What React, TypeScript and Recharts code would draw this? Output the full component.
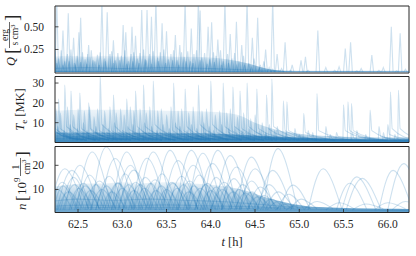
import React from 'react';
import { ComposedChart, Line, Area, XAxis, YAxis, ReferenceArea } from 'recharts';

const T_MIN = 62.24;
const T_MAX = 66.24;
const timeTicks = [62.5, 63.0, 63.5, 64.0, 64.5, 65.0, 65.5, 66.0];
const qTicks = [0.25, 0.5];
const tTicks = [10, 20, 30];
const nTicks = [10, 20];
const Q_DOMAIN = [-0.01, 0.73];
const T_DOMAIN = [0, 33.3];
const N_DOMAIN = [0.45, 27.8];

// Q panel: heating spikes [time h, peak erg/(s cm^3)]
const qTallSpikes = [
  [62.26, 0.8], [62.33, 0.46], [62.39, 0.65], [62.51, 0.44], [62.53, 0.6], [62.77, 0.8], [62.83, 0.66],
  [63.01, 0.52], [63.04, 0.44], [63.11, 0.5], [63.22, 0.685], [63.28, 0.685], [63.33, 0.61], [63.38, 0.8],
  [63.45, 0.54], [63.6, 0.41], [63.71, 0.8], [63.86, 0.8], [63.88, 0.68], [63.97, 0.5], [64.01, 0.55],
  [64.16, 0.8], [64.29, 0.555], [64.41, 0.8], [64.53, 0.6], [64.7, 0.8], [64.84, 0.33], [65.02, 0.13],
  [65.07, 0.168], [65.21, 0.46], [65.52, 0.26], [65.58, 0.33], [65.82, 0.187], [66.04, 0.5], [66.14, 0.43],
  [62.45, 0.38], [62.62, 0.3], [62.9, 0.35], [63.15, 0.4], [63.5, 0.45], [63.65, 0.3], [63.78, 0.48],
  [64.08, 0.36], [64.22, 0.42], [64.35, 0.3], [64.47, 0.38], [64.62, 0.25], [64.75, 0.2], [64.92, 0.08],
  [65.3, 0.05], [65.45, 0.06], [65.7, 0.04], [65.95, 0.05], [66.2, 0.03],
];
const qMidSpikes = [
  [62.24, 0.22], [62.28, 0.15], [62.31, 0.24], [62.35, 0.12], [62.38, 0.2], [62.42, 0.25], [62.46, 0.1],
  [62.49, 0.18], [62.55, 0.22], [62.58, 0.14], [62.61, 0.2], [62.65, 0.24], [62.69, 0.12], [62.72, 0.19],
  [62.75, 0.22], [62.8, 0.15], [62.86, 0.2], [62.88, 0.23], [62.92, 0.13], [62.95, 0.21], [62.99, 0.18],
  [63.03, 0.24], [63.07, 0.12], [63.1, 0.2], [63.13, 0.22], [63.17, 0.15], [63.2, 0.21], [63.24, 0.25],
  [63.27, 0.13], [63.31, 0.2], [63.35, 0.23], [63.4, 0.16], [63.43, 0.22], [63.47, 0.25], [63.52, 0.14],
  [63.55, 0.2], [63.58, 0.24], [63.62, 0.13], [63.67, 0.22], [63.7, 0.17], [63.74, 0.23], [63.77, 0.12],
  [63.81, 0.2], [63.84, 0.24], [63.9, 0.16], [63.93, 0.21], [63.99, 0.14], [64.03, 0.22], [64.06, 0.18],
  [64.11, 0.24], [64.14, 0.12], [64.19, 0.2], [64.24, 0.15], [64.27, 0.21], [64.32, 0.12], [64.37, 0.18],
  [64.43, 0.1], [64.49, 0.15], [64.56, 0.08], [64.6, 0.12], [64.66, 0.05], [64.8, 0.04],
];
const qLowSpikes = [
  [62.26, 0.1], [62.33, 0.08], [62.4, 0.12], [62.47, 0.07], [62.53, 0.11], [62.6, 0.09], [62.67, 0.13],
  [62.74, 0.08], [62.81, 0.12], [62.9, 0.1], [62.97, 0.13], [63.05, 0.09], [63.12, 0.12], [63.19, 0.1],
  [63.26, 0.14], [63.33, 0.09], [63.41, 0.12], [63.49, 0.1], [63.57, 0.13], [63.64, 0.08], [63.72, 0.12],
  [63.8, 0.1], [63.88, 0.13], [63.96, 0.09], [64.04, 0.11], [64.12, 0.08], [64.2, 0.1], [64.29, 0.07],
  [64.38, 0.08], [64.46, 0.05], [64.55, 0.04], [64.7, 0.03], [64.9, 0.02], [65.1, 0.02], [65.4, 0.02],
  [65.65, 0.015], [65.9, 0.02], [66.1, 0.015],
];
const qBaseLines = [
  [[62.2, 0.004], [66.3, 0.004]],
  [[62.2, 0.006], [64.5, 0.006], [66.3, 0.003]],
  [[62.2, 0.04], [62.6, 0.05], [63.0, 0.04], [63.5, 0.05], [64.0, 0.04], [64.5, 0.02], [65.0, 0.01], [66.3, 0.008]],
];
// envelope of the densely overlapping low-Q curves
const qDenseBand = [
  [62.2, 0.17], [62.4, 0.18], [62.6, 0.17], [62.8, 0.18], [63.0, 0.17], [63.2, 0.18], [63.4, 0.18], [63.6, 0.17],
  [63.8, 0.17], [64.0, 0.16], [64.2, 0.14], [64.4, 0.1], [64.55, 0.06], [64.7, 0.025], [64.85, 0.01],
  [65.0, 0.006], [66.3, 0.004],
];

// T_e panel: [time h, peak MK, level after spike MK, end of cooling h]
const tTallSpikes = [
  [62.35, 29, 8, 62.7], [62.52, 25, 7, 62.85], [62.75, 34, 9, 63.1], [63.24, 29, 8, 63.6], [63.35, 31, 9, 63.7],
  [63.58, 30, 8, 63.9], [63.71, 27, 8, 64.0], [63.86, 29, 9, 64.2], [64.0, 31, 9, 64.35], [64.14, 30, 8, 64.5],
  [64.25, 28, 8, 64.6], [64.33, 26, 7, 64.7], [64.41, 30, 8, 64.75], [64.52, 27, 7, 64.9], [64.63, 24, 7, 65.0],
  [64.69, 32, 8, 65.1], [64.82, 21, 6, 65.2], [64.86, 20.5, 6, 65.25], [65.05, 14.7, 5, 65.4], [65.2, 24.7, 6, 65.6],
  [65.5, 19, 6, 65.85], [65.55, 20.5, 6, 65.9], [65.59, 19.7, 6, 65.95], [65.8, 16.4, 6, 66.1], [66.03, 25.5, 7, 66.3],
  [66.12, 26.4, 7, 66.4], [62.28, 22, 7, 62.6], [62.42, 26, 8, 62.75], [62.62, 20, 7, 62.95], [62.9, 24, 8, 63.2],
  [63.05, 22, 7, 63.35], [63.15, 26, 8, 63.45], [62.1, 18, 10, 62.5], [62.15, 16, 9, 62.45], [62.2, 15, 8, 62.5],
];
const tMidSpikes = [
  [62.25, 17, 6, 62.55], [62.3, 15, 5, 62.6], [62.38, 18, 6, 62.7], [62.45, 14, 5, 62.75], [62.5, 17, 6, 62.8],
  [62.57, 16, 5, 62.9], [62.63, 18, 6, 62.95], [62.68, 13, 5, 63.0], [62.72, 17, 6, 63.05], [62.8, 16, 5, 63.1],
  [62.86, 18, 6, 63.15], [62.93, 15, 5, 63.25], [62.98, 17, 6, 63.3], [63.02, 14, 5, 63.3], [63.09, 18, 6, 63.4],
  [63.13, 16, 5, 63.45], [63.2, 17, 6, 63.5], [63.27, 15, 5, 63.55], [63.31, 18, 6, 63.6], [63.4, 16, 5, 63.7],
  [63.44, 17, 6, 63.75], [63.5, 14, 5, 63.8], [63.55, 18, 6, 63.85], [63.63, 16, 5, 63.95], [63.67, 17, 6, 64.0],
  [63.75, 15, 5, 64.05], [63.8, 18, 6, 64.1], [63.9, 16, 5, 64.2], [63.95, 17, 6, 64.25], [64.05, 14, 5, 64.35],
  [64.1, 16, 5, 64.4], [64.18, 15, 5, 64.5], [64.22, 17, 6, 64.55], [64.3, 13, 5, 64.6], [64.37, 15, 5, 64.7],
  [64.45, 12, 4, 64.8], [64.5, 14, 5, 64.85], [64.58, 10, 4, 64.9], [64.66, 9, 4, 65.0], [64.75, 8, 4, 65.1],
  [64.95, 7, 3, 65.3], [65.1, 6, 3, 65.5], [65.3, 8, 3, 65.7], [65.42, 5, 3, 65.8], [65.65, 6, 3, 66.0],
  [65.9, 8, 3, 66.24], [66.0, 9, 4, 66.3],
];
const tLowSpikes = [
  [62.27, 8, 4, 62.55], [62.34, 6, 3.5, 62.6], [62.41, 9, 4, 62.7], [62.49, 7, 3.5, 62.75], [62.56, 10, 4.5, 62.85],
  [62.6, 6, 3, 62.9], [62.7, 8, 4, 63.0], [62.78, 9, 4, 63.05], [62.84, 7, 3.5, 63.1], [62.91, 10, 4.5, 63.2],
  [63.0, 6, 3, 63.25], [63.06, 8, 4, 63.35], [63.12, 9, 4, 63.4], [63.18, 7, 3.5, 63.45], [63.25, 10, 4, 63.55],
  [63.33, 8, 4, 63.6], [63.39, 6, 3, 63.65], [63.46, 9, 4, 63.75], [63.53, 7, 3.5, 63.8], [63.6, 10, 4, 63.9],
  [63.65, 8, 4, 63.95], [63.73, 6, 3, 64.0], [63.78, 9, 4, 64.1], [63.84, 7, 3.5, 64.15], [63.92, 10, 4, 64.2],
  [63.98, 8, 3.5, 64.3], [64.03, 6, 3, 64.35], [64.12, 9, 4, 64.45], [64.2, 7, 3.5, 64.5], [64.27, 8, 3.5, 64.6],
  [64.35, 6, 3, 64.65], [64.43, 7, 3, 64.75], [64.55, 6, 3, 64.85], [64.62, 5, 2.5, 64.95], [64.72, 6, 2.5, 65.05],
  [64.85, 5, 2.5, 65.2], [65.0, 4, 2, 65.4], [65.15, 5, 2, 65.55], [65.35, 4, 2, 65.75], [65.6, 5, 2, 66.0],
  [65.75, 4, 2, 66.15], [65.95, 5, 2, 66.3], [66.08, 4, 2, 66.4],
];
const tBaseLines = [
  [[62.2, 3.5], [62.5, 3], [62.8, 3.5], [63.1, 3], [63.4, 3.5], [63.7, 3], [64.0, 3.2], [64.3, 2.6], [64.6, 2.2], [64.9, 1.6], [65.3, 1.2], [65.8, 1], [66.3, 0.9]],
  [[62.2, 2], [62.6, 2.2], [63.0, 2], [63.5, 2.3], [64.0, 2], [64.5, 1.6], [65.0, 1.1], [65.5, 0.8], [66.3, 0.7]],
  [[62.2, 5], [62.4, 4.2], [62.7, 4.8], [63.0, 4.2], [63.3, 4.6], [63.6, 4], [63.9, 4.4], [64.2, 3.6], [64.5, 3], [64.8, 2.2], [65.2, 1.6], [65.6, 1.3], [66.3, 1.1]],
  [[62.2, 1.2], [63, 1.3], [64, 1.2], [65, 0.9], [66.3, 0.6]],
];
const tMidBand = [
  [62.2, 16], [62.6, 16.5], [63.0, 16.5], [63.5, 16], [64.0, 15.5], [64.3, 14], [64.5, 10], [64.7, 7],
  [64.9, 5], [65.2, 3.5], [65.6, 2.8], [66.3, 2.5],
];
const tLowBand = [
  [62.2, 5], [63.0, 5], [64.0, 4.5], [64.5, 3.5], [65.0, 2.5], [65.5, 1.8], [66.3, 1.5],
];

// n panel arcs: [start h, peak time h, end h, peak 10^9 cm^-3]
const nTallArcs = [
  [62.18, 62.35, 62.57, 18.6], [62.26, 62.43, 62.65, 17.9], [62.35, 62.52, 62.74, 20], [62.48, 62.66, 62.88, 25.5],
  [62.65, 62.82, 63.05, 27.6], [62.75, 62.92, 63.14, 22.8], [62.88, 63.05, 63.27, 25.5], [62.92, 63.09, 63.3, 20],
  [62.96, 63.13, 63.34, 18], [63.1, 63.28, 63.5, 22.9], [63.18, 63.35, 63.57, 25.5], [63.37, 63.54, 63.76, 26.2],
  [63.46, 63.63, 63.85, 22], [63.61, 63.78, 64.0, 26.2], [63.63, 63.8, 64.02, 20], [63.74, 63.91, 64.13, 25],
  [63.85, 64.02, 64.24, 20.8], [63.91, 64.08, 64.3, 26.2], [64.05, 64.22, 64.44, 24], [64.12, 64.29, 64.51, 19.3],
  [64.29, 64.46, 64.68, 23.4], [64.33, 64.5, 64.72, 18.6], [64.53, 64.7, 64.92, 17.9], [64.59, 64.76, 64.98, 26.9],
  [64.78, 64.93, 65.12, 11.8], [65.1, 65.27, 65.48, 18.6], [65.42, 65.57, 65.76, 12.6], [65.48, 65.65, 65.86, 15.2],
  [65.53, 65.71, 65.92, 14.6], [65.9, 66.06, 66.28, 17.9], [66.0, 66.18, 66.4, 20.7],
];
const nMidArcs = [
  [62.2, 62.32, 62.5, 13], [62.3, 62.45, 62.62, 15], [62.42, 62.56, 62.74, 12.5], [62.5, 62.63, 62.82, 16],
  [62.6, 62.74, 62.92, 13.5], [62.7, 62.85, 63.02, 15.5], [62.8, 62.95, 63.12, 12.8], [62.9, 63.03, 63.2, 16.5],
  [63.0, 63.15, 63.32, 13], [63.12, 63.26, 63.44, 15], [63.22, 63.37, 63.55, 14], [63.3, 63.45, 63.62, 16.5],
  [63.42, 63.56, 63.74, 13], [63.52, 63.67, 63.85, 15.5], [63.62, 63.76, 63.94, 13.5], [63.72, 63.87, 64.05, 16],
  [63.82, 63.96, 64.14, 12.5], [63.92, 64.06, 64.24, 15], [64.0, 64.15, 64.33, 13], [64.12, 64.26, 64.44, 14.5],
  [64.22, 64.36, 64.54, 12], [64.32, 64.46, 64.64, 13.5], [64.42, 64.56, 64.74, 11], [64.52, 64.66, 64.84, 12],
  [64.62, 64.76, 64.94, 9], [64.75, 64.88, 65.05, 8], [64.9, 65.02, 65.2, 6], [65.05, 65.2, 65.38, 5],
  [65.3, 65.45, 65.62, 4.5], [65.6, 65.75, 65.95, 4], [65.85, 66.0, 66.2, 4.5], [66.05, 66.2, 66.4, 5],
];
const nLowArcs = [
  [62.15, 62.27, 62.43, 10], [62.22, 62.33, 62.48, 11.5], [62.27, 62.39, 62.55, 9], [62.33, 62.46, 62.62, 12],
  [62.4, 62.51, 62.67, 10.5], [62.46, 62.58, 62.74, 11.5], [62.52, 62.64, 62.8, 9.5], [62.58, 62.7, 62.86, 12],
  [62.64, 62.77, 62.93, 10], [62.7, 62.82, 62.98, 11.5], [62.77, 62.88, 63.04, 9], [62.83, 62.95, 63.11, 12.5],
  [62.88, 63.0, 63.16, 10.5], [62.95, 63.07, 63.23, 12], [63.01, 63.13, 63.29, 9.5], [63.07, 63.2, 63.36, 12],
  [63.13, 63.25, 63.41, 10.5], [63.2, 63.32, 63.48, 12.5], [63.26, 63.38, 63.54, 9.5], [63.32, 63.44, 63.6, 11.5],
  [63.38, 63.5, 63.66, 10], [63.44, 63.57, 63.73, 12.5], [63.5, 63.62, 63.78, 10.5], [63.57, 63.69, 63.85, 12],
  [63.63, 63.75, 63.91, 9], [63.69, 63.81, 63.97, 11.5], [63.75, 63.88, 64.04, 10.5], [63.82, 63.94, 64.1, 12],
  [63.88, 64.0, 64.16, 9.5], [63.94, 64.06, 64.22, 11], [64.0, 64.13, 64.29, 10], [64.07, 64.19, 64.35, 11.5],
  [64.13, 64.25, 64.41, 9], [64.2, 64.32, 64.48, 10], [64.27, 64.39, 64.55, 8.5], [64.34, 64.46, 64.62, 9],
  [64.41, 64.53, 64.69, 7], [64.48, 64.6, 64.76, 7.5], [64.56, 64.68, 64.84, 6], [64.64, 64.76, 64.92, 5],
  [64.73, 64.85, 65.01, 4], [64.85, 64.97, 65.13, 3.5],
];
const nBaseLines = [
  [[62.2, 3], [62.6, 3.5], [63, 3.2], [63.5, 3.6], [64, 3.2], [64.5, 2.8], [65, 2], [65.5, 1.5], [66.3, 1.3]],
  [[62.2, 1.5], [63, 1.8], [64, 1.6], [64.8, 1.3], [65.5, 1], [66.3, 0.9]],
  [[62.2, 5], [62.5, 6], [62.9, 5.5], [63.3, 6], [63.7, 5.5], [64.1, 5], [64.5, 4], [64.9, 2.8], [65.3, 2.2], [65.8, 1.8], [66.3, 1.6]],
  [[62.2, 2.2], [62.8, 2.5], [63.6, 2.4], [64.4, 2.1], [65.1, 1.6], [65.8, 1.4], [66.3, 1.2]],
];
const nDenseBand = [
  [62.2, 11], [62.4, 12], [62.6, 12.5], [62.8, 12.5], [63.0, 13], [63.2, 12.5], [63.4, 13], [63.6, 13],
  [63.8, 12.5], [64.0, 12], [64.2, 11], [64.4, 9.5], [64.6, 7], [64.8, 5], [65.0, 3.5], [65.3, 2.6],
  [65.6, 2.2], [66.0, 2], [66.3, 1.9],
];

const BLUE = '#1f77b4';
const INK = '#262626';
const FONT = "Liberation Serif, DejaVu Serif, serif";
const OP = 0.22;

type Pt = { x: number; y: number };
const toPts = (arr: number[][]): Pt[] => arr.map(([x, y]) => ({ x, y }));
const qShape = ([t, p]: number[]): Pt[] => [{ x: t - 0.02, y: 0 }, { x: t, y: p }, { x: t + 0.02, y: 0 }];
const tShape = ([t, p, tail, end]: number[]): Pt[] => [
  { x: t - 0.006, y: 1.5 }, { x: t, y: p }, { x: t + 0.02, y: tail }, { x: end, y: 1.2 },
];
const nShape = ([t0, tp, t1, p]: number[]): Pt[] => [{ x: t0, y: 1.5 }, { x: tp, y: p }, { x: t1, y: 2 }];

const mkLines = (sets: Pt[][], type: any, prefix: string) =>
  sets.map((pts, i) => (
    <Line
      key={prefix + i}
      data={pts}
      dataKey="y"
      type={type}
      stroke={BLUE}
      strokeOpacity={OP}
      strokeWidth={1.1}
      dot={false}
      activeDot={false}
      isAnimationActive={false}
    />
  ));

const mkBand = (arr: number[][], grad: string, key: string) => (
  <Area
    key={key}
    data={toPts(arr)}
    dataKey="y"
    type="monotone"
    stroke="none"
    fill={`url(#${grad})`}
    fillOpacity={1}
    isAnimationActive={false}
    dot={false}
    activeDot={false}
  />
);

const textStyle: React.CSSProperties = { fontFamily: FONT };

const xTick = (showText: boolean) => (props: any) => {
  const { x, y, payload } = props;
  const base = showText ? y - 7 : y;
  return (
    <g>
      <line x1={x} x2={x} y1={base} y2={base - 3.5} stroke={INK} strokeWidth={0.8} />
      {showText && (
        <text x={x} y={y} dy="0.71em" textAnchor="middle" style={textStyle} fontSize={11.5} fill={INK}>
          {payload.value.toFixed(1)}
        </text>
      )}
    </g>
  );
};

const yTick = (fmt: (v: number) => string) => (props: any) => {
  const { x, y, payload } = props;
  const ax = x + 11;
  return (
    <g>
      <line x1={ax} x2={ax + 3.5} y1={y} y2={y} stroke={INK} strokeWidth={0.8} />
      <text x={x} y={y} dy="0.35em" textAnchor="end" style={textStyle} fontSize={11.5} fill={INK}>
        {fmt(payload.value)}
      </text>
    </g>
  );
};

const panelStyle: React.CSSProperties = { position: 'absolute', left: 0, top: 0 };

function Panel(props: {
  top: number; bottom: number; yDomain: number[]; yTicks: number[]; fmt: (v: number) => string;
  showX: boolean; children: React.ReactNode;
}) {
  const { top, bottom, yDomain, yTicks, fmt, showX, children } = props;
  const xh = showX ? 30 : 0;
  return (
    <ComposedChart
      width={416}
      height={256}
      margin={{ top, right: 7, bottom: 256 - bottom - xh, left: 10 }}
      style={panelStyle}
    >
      <XAxis
        type="number"
        dataKey="x"
        domain={[T_MIN, T_MAX]}
        allowDataOverflow
        ticks={timeTicks}
        interval={0}
        height={xh}
        axisLine={false}
        tickLine={false}
        tickSize={0}
        tickMargin={showX ? 7 : 0}
        tick={xTick(showX)}
      />
      <YAxis
        type="number"
        domain={yDomain}
        allowDataOverflow
        ticks={yTicks}
        interval={0}
        width={45}
        axisLine={false}
        tickLine={false}
        tickSize={0}
        tickMargin={11}
        tick={yTick(fmt)}
      />
      {children}
      <ReferenceArea
        x1={T_MIN}
        x2={T_MAX}
        y1={yDomain[0]}
        y2={yDomain[1]}
        fill="none"
        fillOpacity={0}
        stroke={INK}
        strokeWidth={1}
        ifOverflow="visible"
      />
    </ComposedChart>
  );
}

export default function App() {
  const qLines = [
    mkBand(qDenseBand, 'gq', 'qband'),
    ...mkLines(qBaseLines.map(toPts), 'linear', 'qb'),
    ...mkLines(qLowSpikes.map(qShape), 'linear', 'ql'),
    ...mkLines(qMidSpikes.map(qShape), 'linear', 'qm'),
    ...mkLines(qTallSpikes.map(qShape), 'linear', 'qt'),
  ];
  const tLines = [
    mkBand(tMidBand, 'gtm', 'tmband'),
    mkBand(tLowBand, 'gtl', 'tlband'),
    ...mkLines(tBaseLines.map(toPts), 'monotoneX', 'tb'),
    ...mkLines(tLowSpikes.map(tShape), 'monotoneX', 'tl'),
    ...mkLines(tMidSpikes.map(tShape), 'monotoneX', 'tm'),
    ...mkLines(tTallSpikes.map(tShape), 'monotoneX', 'tt'),
  ];
  const nLines = [
    mkBand(nDenseBand, 'gn', 'nband'),
    ...mkLines(nBaseLines.map(toPts), 'monotoneX', 'nb'),
    ...mkLines(nLowArcs.map(nShape), 'natural', 'nl'),
    ...mkLines(nMidArcs.map(nShape), 'natural', 'nm'),
    ...mkLines(nTallArcs.map(nShape), 'natural', 'nt'),
  ];
  return (
    <div style={{ position: 'absolute', left: 0, top: 0, width: 416, height: 256, background: '#fff', overflow: 'hidden' }}>
      <svg width={0} height={0} style={{ position: 'absolute' }}>
        <defs>
          <linearGradient id="gq" x1="0" y1="0" x2="0" y2="1">
            <stop offset="0%" stopColor={BLUE} stopOpacity={0.06} />
            <stop offset="100%" stopColor={BLUE} stopOpacity={0.6} />
          </linearGradient>
          <linearGradient id="gtm" x1="0" y1="0" x2="0" y2="1">
            <stop offset="0%" stopColor={BLUE} stopOpacity={0.08} />
            <stop offset="100%" stopColor={BLUE} stopOpacity={0.35} />
          </linearGradient>
          <linearGradient id="gtl" x1="0" y1="0" x2="0" y2="1">
            <stop offset="0%" stopColor={BLUE} stopOpacity={0.35} />
            <stop offset="100%" stopColor={BLUE} stopOpacity={0.8} />
          </linearGradient>
          <linearGradient id="gn" x1="0" y1="0" x2="0" y2="1">
            <stop offset="0%" stopColor={BLUE} stopOpacity={0.08} />
            <stop offset="100%" stopColor={BLUE} stopOpacity={0.65} />
          </linearGradient>
        </defs>
      </svg>
      <Panel top={6} bottom={73} yDomain={Q_DOMAIN} yTicks={qTicks} fmt={(v) => v.toFixed(2)} showX={false}>
        {qLines}
      </Panel>
      <Panel top={76.5} bottom={142.5} yDomain={T_DOMAIN} yTicks={tTicks} fmt={(v) => String(v)} showX={false}>
        {tLines}
      </Panel>
      <Panel top={146.5} bottom={212.5} yDomain={N_DOMAIN} yTicks={nTicks} fmt={(v) => String(v)} showX>
        {nLines}
      </Panel>
      <svg width={416} height={256} style={{ position: 'absolute', left: 0, top: 0, pointerEvents: 'none', fontFamily: FONT }} fill={INK}>
        <g transform="translate(11,40) rotate(-90)">
          <text x={-26} y={4} fontSize={12.5} fontStyle="italic">Q</text>
          <text x={-14} y={6.5} fontSize={19}>[</text>
          <text x={5} y={-3.5} fontSize={9.5} textAnchor="middle">erg</text>
          <line x1={-8} x2={18} y1={-1.5} y2={-1.5} stroke={INK} strokeWidth={0.7} />
          <text x={5} y={7} fontSize={9.5} textAnchor="middle">s cm<tspan fontSize={7} dy={-3.5}>3</tspan></text>
          <text x={19} y={6.5} fontSize={19}>]</text>
        </g>
        <g transform="translate(20,109.5) rotate(-90)">
          <text x={0} y={4} fontSize={12.5} textAnchor="middle">
            <tspan fontStyle="italic">T</tspan><tspan fontSize={9} dy={3}>e</tspan><tspan dy={-3}> [MK]</tspan>
          </text>
        </g>
        <g transform="translate(22,180) rotate(-90)">
          <text x={-30} y={4} fontSize={13} fontStyle="italic">n</text>
          <text x={-21} y={5.5} fontSize={17}>[</text>
          <text x={-15} y={4} fontSize={13}>10</text>
          <text x={-2} y={-2} fontSize={9}>9</text>
          <text x={13} y={-3.5} fontSize={9.5} textAnchor="middle">1</text>
          <line x1={4} x2={22} y1={-1.5} y2={-1.5} stroke={INK} strokeWidth={0.7} />
          <text x={13} y={7.5} fontSize={9.5} textAnchor="middle">cm<tspan fontSize={7} dy={-3.5}>3</tspan></text>
          <text x={23} y={5.5} fontSize={17}>]</text>
        </g>
        <text x={232} y={246} fontSize={12.5} textAnchor="middle">
          <tspan fontStyle="italic">t</tspan> [h]
        </text>
      </svg>
    </div>
  );
}
